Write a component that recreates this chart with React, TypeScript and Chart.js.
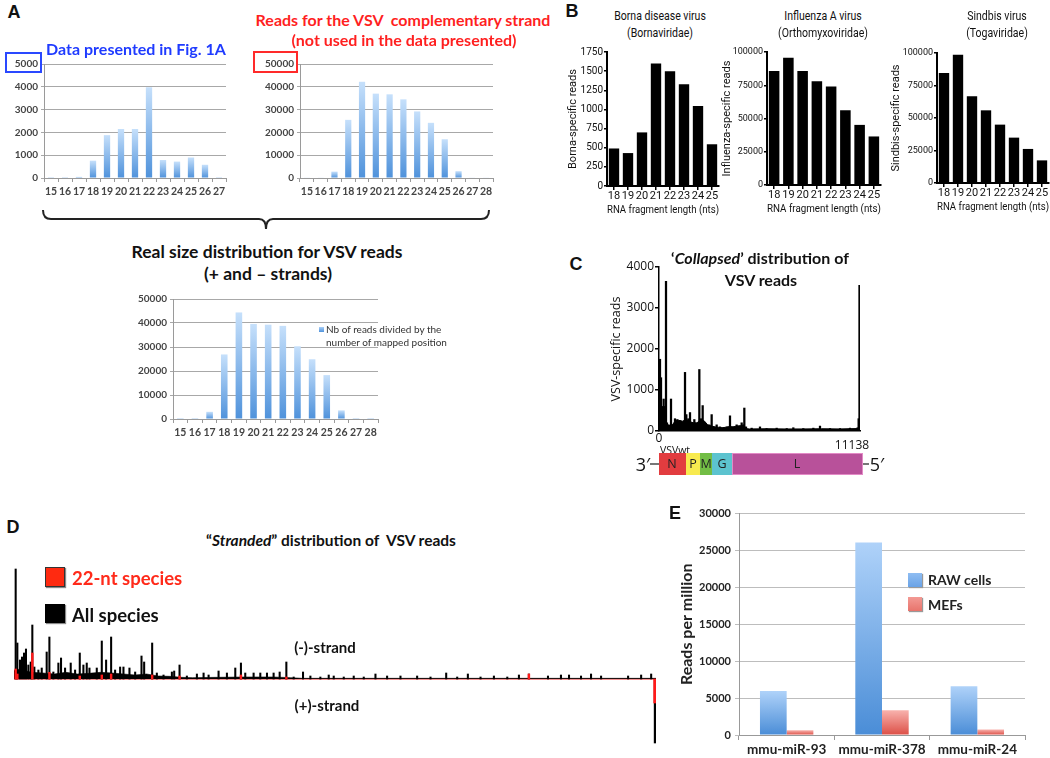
import React, { useEffect, useRef } from "react";
import { Chart, registerables } from "chart.js";
Chart.register(...registerables);

// ---------------- DATA ----------------
const aSizes1 = ["15", "16", "17", "18", "19", "20", "21", "22", "23", "24", "25", "26", "27"];
const aReads1 = [30, 30, 50, 760, 1880, 2150, 2150, 3980, 790, 720, 900, 580, 30];
const aSizes2 = ["15", "16", "17", "18", "19", "20", "21", "22", "23", "24", "25", "26", "27", "28"];
const aReads2 = [200, 200, 2800, 25500, 42200, 37000, 36700, 34500, 29200, 24200, 17000, 3000, 200, 200];
const aReads3 = [300, 300, 3000, 26900, 44400, 39600, 39300, 38800, 30300, 24900, 18300, 3600, 300, 300];

const bSizes = ["18", "19", "20", "21", "22", "23", "24", "25"];
const bornaReads = [490, 430, 700, 1600, 1500, 1330, 1045, 545];
const influenzaReads = [85700, 95700, 85700, 78000, 74000, 56200, 45200, 36500];
const sindbisReads = [84600, 98700, 66700, 55900, 44900, 34900, 26200, 17400];

const cSpikePos = [55, 111, 166, 258, 314, 388, 443, 536, 665, 739, 886, 1016, 1164, 1293, 1441, 1515, 1625, 1718, 1847, 1958, 2087, 2235, 2327, 2420, 2530, 2641, 2789, 2918, 3048, 3195, 3380, 3565, 3749, 3934, 4082, 4303, 4581, 4728, 4821, 5135, 5596, 5966, 6520, 7074, 7443, 7997, 8552, 8921, 9475, 10029, 10583, 11008, 11063, 11110];
const cSpikeReads = [1750, 1300, 600, 780, 600, 3650, 200, 150, 780, 150, 300, 280, 250, 200, 1430, 400, 300, 450, 200, 280, 150, 1500, 300, 620, 200, 100, 150, 400, 100, 150, 100, 80, 100, 370, 100, 150, 200, 560, 100, 70, 100, 60, 70, 60, 80, 60, 70, 120, 60, 60, 70, 80, 300, 3550];
const cBackPos = [0, 150, 300, 450, 700, 900, 1100, 1300, 1500, 1700, 1900, 2100, 2300, 2500, 2700, 2900, 3100, 3300, 3500, 3700, 3900, 4100, 4300, 4500, 4700, 4800, 5000, 6000, 7000, 8000, 9000, 10000, 11000, 11138];
const cBackReads = [600, 500, 250, 150, 120, 250, 260, 240, 280, 230, 200, 200, 260, 250, 150, 120, 100, 90, 80, 90, 110, 100, 120, 130, 150, 60, 50, 55, 50, 50, 55, 50, 60, 0];

const dMinusPos = [29, 58, 104, 139, 174, 208, 249, 290, 318, 353, 423, 481, 567, 614, 683, 770, 816, 886, 984, 1060, 1141, 1204, 1262, 1309, 1436, 1523, 1598, 1685, 1754, 1841, 1899, 2003, 2102, 2212, 2258, 2397, 2478, 2594, 2739, 2779, 2872, 2999, 3173, 3289, 3376, 3549, 3694, 3839, 3937, 4012, 4157, 4273, 4389, 4504, 4609, 4725, 4852, 5014, 5142, 5315, 5460, 5547, 5721, 5894, 6068, 6271, 6473, 6705, 6994, 7226, 7498, 7689, 7874, 8094, 8326, 8558, 8760, 8933, 9264, 9489, 9629, 9837, 10011, 10185, 10654, 10880, 11054];
const dMinusReads = [3300, 1080, 570, 660, 780, 900, 420, 510, 1620, 360, 270, 330, 810, 1260, 210, 480, 630, 330, 480, 270, 780, 420, 480, 330, 330, 1140, 570, 1260, 270, 360, 360, 330, 210, 690, 510, 1080, 180, 120, 210, 240, 420, 90, 150, 180, 120, 240, 180, 330, 480, 180, 180, 180, 180, 180, 210, 510, 60, 210, 90, 60, 120, 90, 60, 90, 60, 150, 90, 90, 90, 60, 180, 60, 150, 60, 90, 60, 120, 150, 90, 120, 120, 90, 150, 90, 90, 120, 150];
const dBackPos = [0, 100, 300, 500, 700, 900, 1100, 1300, 1500, 1700, 1900, 2100, 2300, 2500, 2700, 2900, 3100, 3500, 4000, 4500, 4800, 5000, 11138];
const dBackReads = [250, 300, 200, 180, 150, 200, 150, 170, 200, 180, 150, 120, 150, 90, 80, 50, 40, 50, 60, 60, 40, 20, 20];
const dRedPos = [29, 58, 318, 614, 1141, 1523, 1685, 2397, 2872, 3937, 4725, 8933];
const dRedReads = [300, 150, 780, 200, 90, 120, 150, 120, 90, 120, 60, 150];
const dPlusPos = [11123];
const dPlusAll = [-1920];
const dPlusRed = [-720];
const dBaselinePos = [0, 11138];
const dBaselineReads = [0, 0];

const eMirnas = ["mmu-miR-93", "mmu-miR-378", "mmu-miR-24"];
const eRaw = [5950, 26100, 6600];
const eMef = [650, 3350, 750];

// ---------------- HELPERS ----------------
const LATO = "Lato, 'Open Sans', sans-serif";
const NARROW = "Roboto, 'Noto Sans', sans-serif";
const OPEN = "'Open Sans', Lato, sans-serif";
const plain = (v: any) => String(v);

function barGradient(light: string, dark: string) {
  return (ctx: any) => {
    const chart = ctx.chart;
    const y = chart.scales && chart.scales.y;
    if (!chart.chartArea || !y || ctx.type !== "data") return dark;
    const v = typeof ctx.raw === "number" ? ctx.raw : 0;
    const top = y.getPixelForValue(v);
    const bottom = y.getPixelForValue(0);
    if (!isFinite(top) || Math.abs(top - bottom) < 1) return dark;
    const g = chart.ctx.createLinearGradient(0, top, 0, bottom);
    g.addColorStop(0, light);
    g.addColorStop(1, dark);
    return g;
  };
}

function pts(xs: number[], ys: number[]) {
  return xs.map((x, i) => ({ x, y: ys[i] }));
}

const base = {
  responsive: false,
  animation: false as const,
  devicePixelRatio: 1,
  events: [] as any[],
};

function excelConfig(labels: string[], values: number[], max: number, step: number, yWidth: number, padTop: number) {
  return () => ({
    type: "bar",
    data: {
      labels,
      datasets: [{ data: values, backgroundColor: barGradient("#c6e0fb", "#4f92db"), barPercentage: 0.45, categoryPercentage: 1 }],
    },
    options: {
      ...base,
      layout: { padding: { top: padTop, right: 6, left: 0, bottom: 0 } },
      plugins: { legend: { display: false }, tooltip: { enabled: false } },
      scales: {
        x: {
          grid: { offset: true, drawOnChartArea: false, drawTicks: true, tickLength: 4, color: "#9a9a9a" },
          border: { color: "#9a9a9a" },
          ticks: { font: { family: LATO, size: 10.5, weight: "bold" }, color: "#444", padding: 3, maxRotation: 0, autoSkip: false },
          afterFit: (s: any) => { s.height = 27; },
        },
        y: {
          min: 0, max,
          ticks: { stepSize: step, callback: plain, font: { family: LATO, size: 10, weight: "bold" }, color: "#444", padding: 3 },
          grid: { color: "#a8a8a8", tickLength: 3 },
          border: { color: "#9a9a9a" },
          afterFit: (s: any) => { s.width = yWidth; },
        },
      },
    },
  });
}

function prismConfig(values: number[], max: number, step: number, yTitle: string, yWidth: number, padTop: number, padRight: number, tickSize: number) {
  return () => ({
    type: "bar",
    data: {
      labels: bSizes,
      datasets: [{ data: values, backgroundColor: "#000", barPercentage: 0.74, categoryPercentage: 1 }],
    },
    options: {
      ...base,
      layout: { padding: { top: padTop, right: padRight, left: 0, bottom: 0 } },
      plugins: { legend: { display: false }, tooltip: { enabled: false } },
      scales: {
        x: {
          grid: { offset: false, drawOnChartArea: false, drawTicks: true, tickLength: 4, color: "#000", lineWidth: 1.5 },
          border: { color: "#000", width: 2 },
          ticks: { font: { family: NARROW, size: 11 }, color: "#111", padding: 0, maxRotation: 0, autoSkip: false },
          title: { display: true, text: "RNA fragment length (nts)", font: { family: NARROW, size: 10 }, color: "#111", padding: { top: 1, bottom: 4 } },
          afterFit: (s: any) => { s.height = 34; },
        },
        y: {
          min: 0, max,
          ticks: { stepSize: step, callback: plain, font: { family: NARROW, size: tickSize }, color: "#111", padding: 1 },
          grid: { drawOnChartArea: false, drawTicks: true, tickLength: 3, color: "#000", lineWidth: 1.5 },
          border: { color: "#000", width: 2 },
          title: { display: true, text: yTitle, font: { family: NARROW, size: 11 }, color: "#111", padding: { top: 2, bottom: 2 } },
          afterFit: (s: any) => { s.width = yWidth; },
        },
      },
    },
  });
}

const cConfig = () => ({
  type: "bar",
  data: {
    datasets: [
      { type: "bar", data: pts(cSpikePos, cSpikeReads), backgroundColor: "#000", barThickness: 1.6, grouped: false, order: 0 },
      { type: "line", data: pts(cBackPos, cBackReads), borderColor: "#000", borderWidth: 1, backgroundColor: "#000", fill: "origin", pointRadius: 0, tension: 0, order: 1 },
    ],
  },
  options: {
    ...base,
    layout: { padding: { top: 9, right: 6, left: 0, bottom: 0 } },
    plugins: { legend: { display: false }, tooltip: { enabled: false } },
    scales: {
      x: {
        type: "linear", min: 0, max: 11138, offset: false,
        ticks: { display: false },
        grid: { display: false },
        border: { display: true, color: "#000", width: 1.5 },
        afterFit: (s: any) => { s.height = 10; },
      },
      y: {
        min: 0, max: 4000,
        ticks: { stepSize: 1000, callback: plain, font: { family: OPEN, size: 12 }, color: "#111", padding: 1 },
        grid: { drawOnChartArea: false, drawTicks: true, tickLength: 4, color: "#000", lineWidth: 1.5 },
        border: { color: "#000", width: 1.5 },
        title: { display: true, text: "VSV-specific reads", font: { family: OPEN, size: 12.5 }, color: "#111", padding: { top: 3, bottom: 2 } },
        afterFit: (s: any) => { s.width = 53; },
      },
    },
  },
});

const dConfig = () => ({
  type: "bar",
  data: {
    datasets: [
      { type: "bar", data: pts(dRedPos, dRedReads), backgroundColor: "#ff1a1a", barThickness: 1.8, grouped: false, order: 0 },
      { type: "bar", data: pts(dPlusPos, dPlusRed), backgroundColor: "#ff1a1a", barThickness: 3, grouped: false, order: 0 },
      { type: "bar", data: pts(dMinusPos, dMinusReads), backgroundColor: "#000", barThickness: 1.4, grouped: false, order: 1 },
      { type: "bar", data: pts(dPlusPos, dPlusAll), backgroundColor: "#000", barThickness: 2, grouped: false, order: 1 },
      { type: "line", data: pts(dBackPos, dBackReads), borderColor: "#000", borderWidth: 0.6, backgroundColor: "#000", fill: "origin", pointRadius: 0, tension: 0, order: 2 },
      { type: "line", data: pts(dBaselinePos, dBaselineReads), borderColor: "#ee6b6b", borderWidth: 1.4, pointRadius: 0, order: 3 },
    ],
  },
  options: {
    ...base,
    layout: { padding: 0 },
    plugins: { legend: { display: false }, tooltip: { enabled: false } },
    scales: {
      x: { type: "linear", min: 0, max: 11138, offset: false, display: false },
      y: { min: -2100, max: 3450, display: false },
    },
  },
});

const eConfig = () => ({
  type: "bar",
  data: {
    labels: eMirnas,
    datasets: [
      { label: "RAW cells", data: eRaw, backgroundColor: barGradient("#afd2f9", "#4a8dd7"), barPercentage: 1, categoryPercentage: 0.56 },
      { label: "MEFs", data: eMef, backgroundColor: barGradient("#f8b2ad", "#dc4f46"), barPercentage: 1, categoryPercentage: 0.56 },
    ],
  },
  options: {
    ...base,
    layout: { padding: { top: 10, right: 10, left: 0, bottom: 0 } },
    plugins: { legend: { display: false }, tooltip: { enabled: false } },
    scales: {
      x: {
        grid: { offset: true, drawOnChartArea: false, drawTicks: true, tickLength: 5, color: "#999" },
        border: { color: "#999" },
        ticks: { font: { family: LATO, size: 13.5, weight: "bold" }, color: "#222", padding: 2, maxRotation: 0, autoSkip: false },
        afterFit: (s: any) => { s.height = 23; },
      },
      y: {
        min: 0, max: 30000,
        ticks: { stepSize: 5000, callback: plain, font: { family: LATO, size: 11, weight: "bold" }, color: "#222", padding: 4 },
        grid: { color: "#bdbdbd", tickLength: 4 },
        border: { color: "#999" },
        title: { display: true, text: "Reads per million", font: { family: LATO, size: 16, weight: "bold" }, color: "#222", padding: { top: 4, bottom: 2 } },
        afterFit: (s: any) => { s.width = 66; },
      },
    },
  },
});

function ChartBox({ x, y, w, h, config }: { x: number; y: number; w: number; h: number; config: () => any }) {
  const ref = useRef<HTMLCanvasElement>(null);
  useEffect(() => {
    const c = new Chart(ref.current as HTMLCanvasElement, config());
    return () => c.destroy();
  }, []);
  return <canvas ref={ref} width={w} height={h} style={{ position: "absolute", left: x, top: y, width: w, height: h }} />;
}

function T({ x, y, children, anchor = "center", sx = 1, style = {} }: any) {
  const tx = anchor === "center" ? "-50%" : anchor === "left" ? "0" : "-100%";
  const origin = anchor === "left" ? "left center" : "center center";
  return (
    <div style={{ position: "absolute", left: x, top: y, transform: `translate(${tx},-50%) scaleX(${sx})`, transformOrigin: origin, whiteSpace: "nowrap", lineHeight: 1, ...style }}>
      {children}
    </div>
  );
}

function Box({ x, y, w, h, style = {} }: any) {
  return <div style={{ position: "absolute", left: x, top: y, width: w, height: h, boxSizing: "border-box", ...style }} />;
}

const letter = { fontFamily: "'Liberation Sans', Arial, sans-serif", fontWeight: 700, fontSize: 18, color: "#111" };
const aTitle = { fontFamily: LATO, fontWeight: 700, fontSize: 16 };
const bTitle = { fontFamily: NARROW, fontSize: 13.5, color: "#111" };

export default function App() {
  return (
    <div style={{ position: "absolute", left: 0, top: 0, width: 1050, height: 758, overflow: "hidden", background: "#fff" }}>
      <svg width={1050} height={758} style={{ position: "absolute", left: 0, top: 0 }}>
        <path d="M43,210 Q43,219 51,219 L259,219 Q266,219 266,229 Q266,219 273,219 L481,219 Q489,219 489,210" fill="none" stroke="#222" strokeWidth={2} />
      </svg>

      {/* Panel A */}
      <ChartBox x={0} y={55} w={232} h={150} config={excelConfig(aSizes1, aReads1, 5000, 1000, 44, 7)} />
      <ChartBox x={250} y={55} w={249} h={150} config={excelConfig(aSizes2, aReads2, 50000, 10000, 50, 6)} />
      <ChartBox x={120} y={290} w={264} h={156} config={excelConfig(aSizes2, aReads3, 50000, 10000, 53, 7)} />
      <T x={14} y={12} style={letter}>A</T>
      <T x={136} y={49} style={{ ...aTitle, color: "#1f3bff" }}>Data presented in Fig. 1A</T>
      <T x={403} y={20} style={{ ...aTitle, color: "#ff1f1f" }}>Reads for the VSV&nbsp; complementary strand</T>
      <T x={404} y={40} style={{ ...aTitle, color: "#ff1f1f" }}>(not used in the data presented)</T>
      <Box x={5} y={52} w={37} h={21} style={{ border: "2px solid #2a48ff" }} />
      <Box x={253} y={51} w={45} h={22} style={{ border: "2px solid #ff2a2a" }} />
      <T x={267} y={252} style={{ ...aTitle, fontSize: 17.5, color: "#111" }}>Real size distribution for VSV reads</T>
      <T x={268} y={274} style={{ ...aTitle, fontSize: 17.5, color: "#111" }}>(+ and – strands)</T>
      <Box x={319} y={327} w={5} h={5} style={{ background: "linear-gradient(#a9cff7,#4f92db)" }} />
      <T x={326} y={329} anchor="left" style={{ fontFamily: LATO, fontSize: 10, color: "#333" }}>Nb of reads divided by the</T>
      <T x={326} y={342} anchor="left" style={{ fontFamily: LATO, fontSize: 10, color: "#333" }}>number of mapped position</T>

      {/* Panel B */}
      <ChartBox x={565} y={45} w={156} h={175} config={prismConfig(bornaReads, 1750, 250, "Borna-specific reads", 42, 7, 2, 10)} />
      <ChartBox x={719} y={45} w={164} h={174} config={prismConfig(influenzaReads, 100000, 25000, "Influenza-specific reads", 48, 7, 2, 9)} />
      <ChartBox x={888} y={45} w={162} h={172} config={prismConfig(sindbisReads, 100000, 25000, "Sindbis-specific reads", 49, 8, 1, 9)} />
      <T x={572} y={11} style={letter}>B</T>
      <T x={660} y={16} sx={0.78} style={bTitle}>Borna disease virus</T>
      <T x={660} y={33} sx={0.78} style={bTitle}>(Bornaviridae)</T>
      <T x={823} y={16} sx={0.78} style={bTitle}>Influenza A virus</T>
      <T x={823} y={33} sx={0.78} style={bTitle}>(Orthomyxoviridae)</T>
      <T x={997} y={16} sx={0.78} style={bTitle}>Sindbis virus</T>
      <T x={997} y={33} sx={0.78} style={bTitle}>(Togaviridae)</T>

      {/* Panel C */}
      <ChartBox x={606} y={258} w={260} h={183} config={cConfig} />
      <T x={576} y={264} style={letter}>C</T>
      <T x={760} y={258} style={{ ...aTitle, color: "#111" }}>‘<i>Collapsed</i>’ distribution of</T>
      <T x={761} y={280} style={{ ...aTitle, color: "#111" }}>VSV reads</T>
      <T x={659} y={438} style={{ fontFamily: OPEN, fontSize: 12, color: "#111" }}>0</T>
      <T x={852} y={445} style={{ fontFamily: OPEN, fontSize: 12, color: "#111" }}>11138</T>
      <T x={675} y={450} style={{ fontFamily: OPEN, fontSize: 10.5, color: "#111" }}>VSVwt</T>
      <Box x={650} y={463} w={9} h={1.5} style={{ background: "#777" }} />
      <Box x={863} y={463} w={6} h={1.5} style={{ background: "#777" }} />
      <T x={643} y={464} style={{ fontFamily: OPEN, fontSize: 18, color: "#111" }}>3′</T>
      <T x={877} y={464} style={{ fontFamily: OPEN, fontSize: 18, color: "#111" }}>5′</T>
      <Box x={659} y={453} w={27} h={22} style={{ background: "#e23c3f" }} />
      <Box x={686} y={453} w={14} h={22} style={{ background: "#f8ea4f" }} />
      <Box x={700} y={453} w={12} h={22} style={{ background: "#72bd45" }} />
      <Box x={712} y={453} w={20} h={22} style={{ background: "#5cc3cf" }} />
      <Box x={732} y={453} w={131} h={22} style={{ background: "#b8519a", border: "1px solid #e38ac6" }} />
      <T x={672} y={464} style={{ fontFamily: OPEN, fontSize: 12.5, color: "#222" }}>N</T>
      <T x={693} y={464} style={{ fontFamily: OPEN, fontSize: 12.5, color: "#222" }}>P</T>
      <T x={706} y={464} style={{ fontFamily: OPEN, fontSize: 12.5, color: "#222" }}>M</T>
      <T x={722} y={464} style={{ fontFamily: OPEN, fontSize: 12.5, color: "#222" }}>G</T>
      <T x={797} y={464} style={{ fontFamily: OPEN, fontSize: 12.5, color: "#222" }}>L</T>

      {/* Panel D */}
      <ChartBox x={14} y={564} w={642} h={185} config={dConfig} />
      <T x={13} y={527} style={letter}>D</T>
      <T x={331} y={541} style={{ fontFamily: LATO, fontWeight: 700, fontSize: 15.5, color: "#111" }}>“<i>Stranded</i>” distribution of&nbsp; VSV reads</T>
      <Box x={45} y={567} w={20} h={20} style={{ background: "#ff2a10", border: "1px solid #333", boxShadow: "1px 1px 1px #888" }} />
      <T x={72} y={578} anchor="left" style={{ fontFamily: LATO, fontWeight: 700, fontSize: 18.5, color: "#ff2a1a" }}>22-nt species</T>
      <Box x={45} y={604} w={20} h={19} style={{ background: "#000", boxShadow: "1px 1px 1px #888" }} />
      <T x={72} y={615} anchor="left" style={{ fontFamily: LATO, fontWeight: 700, fontSize: 18.5, color: "#111" }}>All species</T>
      <T x={325} y={647} style={{ fontFamily: LATO, fontWeight: 700, fontSize: 15, color: "#111" }}>(-)-strand</T>
      <T x={327} y={705} style={{ fontFamily: LATO, fontWeight: 700, fontSize: 15, color: "#111" }}>(+)-strand</T>

      {/* Panel E */}
      <ChartBox x={673} y={503} w={362} h={255} config={eConfig} />
      <T x={675} y={513} style={letter}>E</T>
      <Box x={908} y={573} w={14} h={14} style={{ background: "linear-gradient(#8fbdf2,#6aa3e6)", boxShadow: "1px 1px 1px #999" }} />
      <T x={928} y={580} anchor="left" style={{ fontFamily: LATO, fontWeight: 700, fontSize: 14, color: "#222" }}>RAW cells</T>
      <Box x={908} y={597} w={14} h={14} style={{ background: "linear-gradient(#f39a94,#e8746c)", boxShadow: "1px 1px 1px #999" }} />
      <T x={928} y={605} anchor="left" style={{ fontFamily: LATO, fontWeight: 700, fontSize: 14, color: "#222" }}>MEFs</T>
    </div>
  );
}
